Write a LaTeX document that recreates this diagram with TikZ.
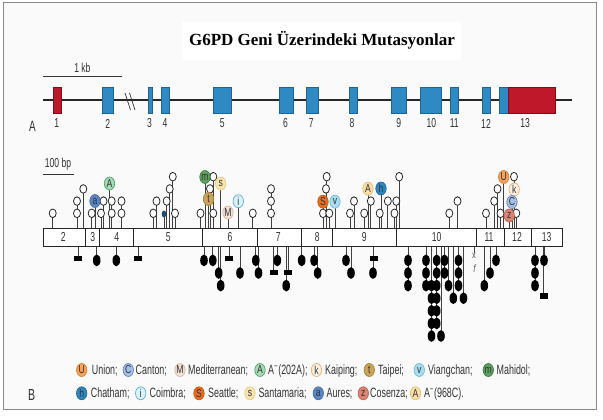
\documentclass[tikz,border=0pt]{standalone}
\usepackage{fontspec}
\setmainfont{Liberation Sans}
\newfontfamily\cond[FakeStretch=0.75]{Liberation Sans}
\newfontfamily\narrow[FakeStretch=0.66]{Liberation Sans}
\newfontfamily\serifb{Liberation Serif}
\usetikzlibrary{shapes.geometric}
\pgfdeclarelayer{bg}
\pgfdeclarelayer{stems}
\pgfsetlayers{bg,stems,main}

\definecolor{framec}{HTML}{8A8A8A}
\definecolor{paper}{HTML}{FAFAFA}
\definecolor{exb}{HTML}{2F8AC4}
\definecolor{exbd}{HTML}{1C6596}
\definecolor{exr}{HTML}{C0182B}
\definecolor{exrd}{HTML}{7E0E1A}
\definecolor{cUf}{HTML}{F3A35C}\definecolor{cUd}{HTML}{E07E2A}
\definecolor{cCf}{HTML}{A7BFE3}\definecolor{cCd}{HTML}{5A86C8}
\definecolor{cMf}{HTML}{F4E0D6}\definecolor{cMd}{HTML}{D9B5A5}
\definecolor{cAgf}{HTML}{A7D9B5}\definecolor{cAgd}{HTML}{4BA66A}
\definecolor{ckf}{HTML}{FFF1E2}\definecolor{ckd}{HTML}{F0AE6E}
\definecolor{ctf}{HTML}{C9A45A}\definecolor{ctd}{HTML}{A88236}
\definecolor{cvf}{HTML}{A9DCEE}\definecolor{cvd}{HTML}{6CBEDD}
\definecolor{cmf}{HTML}{5E9F62}\definecolor{cmd}{HTML}{3F7F44}
\definecolor{chf}{HTML}{2E88BF}\definecolor{chd}{HTML}{1E6A9A}
\definecolor{cif}{HTML}{DDF1F8}\definecolor{cid}{HTML}{5DB1D9}
\definecolor{cSf}{HTML}{E96F1C}\definecolor{cSd}{HTML}{C95510}
\definecolor{csf}{HTML}{F8E5AE}\definecolor{csd}{HTML}{E8CC80}
\definecolor{caf}{HTML}{5B86C4}\definecolor{cad}{HTML}{46709F}
\definecolor{czf}{HTML}{DA8473}\definecolor{czd}{HTML}{C0604F}
\definecolor{cAtf}{HTML}{F8DFAA}\definecolor{cAtd}{HTML}{E3BD72}
\definecolor{darkblob}{HTML}{1F4E79}

\newcommand\legfont{\narrow\fontsize{13.5}{15}\selectfont}

\tikzset{
  oc/.style={ellipse, draw=black!85, fill=white, line width=0.8pt, minimum width=7pt, minimum height=8.6pt, inner sep=0pt},
  fc/.style={ellipse, fill=black, minimum width=7.6pt, minimum height=11.8pt, inner sep=0pt},
  sq/.style={rectangle, fill=black, minimum width=8pt, minimum height=5.5pt, inner sep=0pt},
  stem/.style={draw=black!75, line width=0.75pt},
  exonB/.style={rectangle, fill=exb, draw=exbd, line width=0.6pt, minimum height=26pt, inner sep=0pt, anchor=west},
  exonR/.style={rectangle, fill=exr, draw=exrd, line width=0.6pt, minimum height=26pt, inner sep=0pt, anchor=west},
  numlab/.style={font=\narrow\fontsize{13}{13}\selectfont, text=black!80, inner sep=0pt},
  lc/.style 2 args={ellipse, fill=#1, draw=#2, line width=0.7pt, minimum width=10.4pt, minimum height=13pt, inner sep=0pt, font=\cond\fontsize{11.5}{11.5}\selectfont, text=black!80},
  ccU/.style={lc={cUf}{cUd}}, ccC/.style={lc={cCf}{cCd}}, ccM/.style={lc={cMf}{cMd}},
  ccAg/.style={lc={cAgf}{cAgd}}, cck/.style={lc={ckf}{ckd}}, cct/.style={lc={ctf}{ctd}},
  ccv/.style={lc={cvf}{cvd}}, ccm/.style={lc={cmf}{cmd}}, cch/.style={lc={chf}{chd}},
  cci/.style={lc={cif}{cid}}, ccS/.style={lc={cSf}{cSd}}, ccs/.style={lc={csf}{csd}},
  cca/.style={lc={caf}{cad}}, ccz/.style={lc={czf}{czd}}, ccAt/.style={lc={cAtf}{cAtd}},
}

% open lollipops above the box: name, x, first row, last row
\newcommand\lu[4]{%
  \foreach \r in {#3,...,#4}{\node[oc] (#1-\r) at (#2,{225.5-12.2*\r}) {};}
  \begin{pgfonlayer}{stems}\draw[stem] (#2,228.3) coordinate (#1-b) -- (#1-#4.center);\end{pgfonlayer}}
% filled lollipops below the box
\newcommand\ld[4]{%
  \foreach \r in {#3,...,#4}{\node[fc] (#1-\r) at (#2,{247.8+12.6*\r}) {};}
  \begin{pgfonlayer}{stems}\draw[stem] (#2,245.7) coordinate (#1-b) -- (#1-#4.center);\end{pgfonlayer}}
% square below the box
\newcommand\ls[3]{%
  \node[sq] (#1) at (#2,#3) {};
  \begin{pgfonlayer}{stems}\draw[stem] (#2,245.7) coordinate (#1-b) -- (#1.center);\end{pgfonlayer}}
% coloured marker above the box
\newcommand\mk[5]{%
  \node[#4] (#1) at (#2,#3) {#5};
  \begin{pgfonlayer}{stems}\draw[stem] (#2,228.3) coordinate (#1-b) -- (#1.center);\end{pgfonlayer}}
% legend entry
\newcommand\leg[7]{%
  \node[#4] (#1) at (#2,#3) {#5};
  \node[anchor=base west, font=\legfont, text=black!80, inner sep=0pt] (#1-t) at (#6,{#3+4.6}) {#7};}

\begin{document}
\begin{tikzpicture}[x=1pt,y=-1pt]
\useasboundingbox (0,0) rectangle (603,420);
\begin{pgfonlayer}{bg}
  \fill[white] (0,0) rectangle (603,420);
  \draw[draw=framec, fill=paper, line width=1pt] (3,2.5) rectangle (596.7,409.3);
\end{pgfonlayer}

% title
\node[fill=white, minimum width=279pt, minimum height=38pt, inner sep=0pt] (tbox) at (321,41) {};
\node[font=\serifb\bfseries\fontsize{17}{19}\selectfont, inner sep=0pt] (title) at (322,40) {G6PD Geni Üzerindeki Mutasyonlar};

% ---------- panel A ----------
\coordinate (kb0) at (43,76.7); \coordinate (kb1) at (122,76.7);
\draw[line width=1.1pt, black!80] (kb0) -- (kb1);
\node[numlab] (kbl) at (82.4,67.5) {1 kb};
\coordinate (g0) at (43,100); \coordinate (g1) at (572,100);
\draw[line width=1.1pt, black!85] (g0) -- (g1);
\node[exonR, minimum width=8.5pt] (e1) at (52.8,100.3) {};
\node[exonB, minimum width=10.7pt] (e2) at (102.3,100.3) {};
\node[exonB, minimum width=4.7pt] (e3) at (147.5,100.3) {};
\node[exonB, minimum width=7.2pt] (e4) at (161.4,100.3) {};
\node[exonB, minimum width=17.8pt] (e5) at (213,100.3) {};
\node[exonB, minimum width=14.6pt] (e6) at (278.7,100.3) {};
\node[exonB, minimum width=11.5pt] (e7) at (306.3,100.3) {};
\node[exonB, minimum width=8.4pt] (e8) at (348.9,100.3) {};
\node[exonB, minimum width=14.6pt] (e9) at (391,100.3) {};
\node[exonB, minimum width=21.1pt] (e10) at (419.8,100.3) {};
\node[exonB, minimum width=8.4pt] (e11) at (449.7,100.3) {};
\node[exonB, minimum width=8.5pt] (e12) at (481.5,100.3) {};
\node[exonB, minimum width=9pt] (e13b) at (499,100.3) {};
\node[exonR, minimum width=46.8pt] (e13) at (508,100.3) {};
\draw[black!80, line width=0.7pt] (125,93) -- (130.5,110) (129.5,93) -- (135,110);
\foreach \n/\x in {1/56.7,2/107.7,3/149.5,4/164.9,5/222.3,6/285.6,7/311.3,8/352,9/398.7,10/431.3,11/454.3,12/486,13/525.2}
  \node[numlab] (na\n) at (\x,123.5) {\n};
\node[font=\narrow\fontsize{15}{15}\selectfont, text=black!80] (labA) at (32.5,126) {A};

% ---------- panel B ----------
\coordinate (bp0) at (42.7,174.3); \coordinate (bp1) at (74,174.3);
\draw[line width=1.1pt, black!80] (bp0) -- (bp1);
\node[numlab] (bpl) at (58,164.5) {100 bp};
\node[draw=black!85, fill=white, line width=0.8pt, anchor=north west, minimum width=519pt, minimum height=17.4pt, inner sep=0pt] (bx) at (42.7,228.3) {};
\foreach \x in {85,99.3,133.3,202,257.3,301.7,332.7,396.8,476.7,504,531.7}
  \draw[black!85, line width=0.8pt] (\x,228.3) -- (\x,245.7);
\foreach \n/\x in {2/63.3,3/92.7,4/116.7,5/168.3,6/230,7/278.3,8/317.3,9/364.3,10/436.7,11/489,12/517,13/546.7}
  \node[numlab] (nb\n) at (\x,237.2) {\n};

% upper open lollipops
\lu{u1}{52.7}{1}{1}
\lu{u2}{77}{1}{2}
\lu{u3}{83.3}{3}{3}
\lu{u4}{91.7}{1}{1}
\lu{u5}{101}{1}{1}
\lu{u6}{103.5}{2}{2}
\lu{u7}{111.7}{1}{2}
\lu{u8}{121.5}{1}{2}
\lu{u9}{153.3}{1}{1}
\lu{u10}{156.5}{2}{2}
\lu{u11}{166.7}{2}{2}
\lu{u12}{169.7}{3}{3}
\lu{u13}{172.8}{4}{4}
\lu{u14}{175}{1}{1}
\lu{u15}{200.5}{1}{1}
\lu{u16}{210}{3}{3}
\lu{u17}{213.3}{4}{4}
\lu{u18}{213.3}{1}{1}
\lu{u19}{252.8}{1}{1}
\lu{u20}{271}{1}{3}
\lu{u21}{323}{1}{1}
\lu{u22}{329.3}{1}{1}
\lu{u23}{326}{3}{3}
\lu{u24}{326.7}{4}{4}
\lu{u25}{350}{1}{1}
\lu{u26}{354}{2}{2}
\lu{u27}{364.2}{1}{1}
\lu{u28}{370.8}{2}{2}
\lu{u29}{379.7}{1}{1}
\lu{u30}{387.8}{2}{2}
\lu{u31}{394.5}{1}{1}
\lu{u32}{396.3}{2}{2}
\lu{u33}{399.2}{4}{4}
\lu{u34}{449.3}{1}{1}
\lu{u35}{457.5}{2}{2}
\lu{u36}{486}{1}{1}
\lu{u37}{494.2}{2}{2}
\lu{u38}{497.5}{3}{3}
\lu{u39}{500.5}{1}{1}
\lu{u40}{514}{4}{4}
\lu{u41}{516.3}{1}{1}
% small dark mark in exon 5
\node[ellipse, fill=darkblob, minimum width=4.6pt, minimum height=7pt, inner sep=0pt] (blob) at (164,214) {};
\begin{pgfonlayer}{stems}\draw[stem] (164,228.3) coordinate (blob-b) -- (blob.center);\end{pgfonlayer}
% coloured markers
\mk{ma}{95}{201}{cca}{a}
\mk{mAg}{109.5}{183.5}{ccAg}{A}
\mk{mm}{205}{177}{ccm}{m}
\mk{mt}{208.5}{199}{cct}{t}
\mk{ms}{220.7}{183.5}{ccs}{s}
\mk{mM}{228}{212.5}{ccM}{M}
\mk{mi}{238.3}{201.2}{cci}{i}
\mk{mS}{323}{201.7}{ccS}{S}
\mk{mv}{335}{201.7}{ccv}{v}
\mk{mAt}{368}{188.7}{ccAt}{A}
\mk{mh}{381}{188.5}{cch}{h}
\mk{mU}{503.7}{177}{ccU}{U}
\mk{mk}{514.2}{189.5}{cck}{k}
\mk{mz}{509.2}{215.5}{ccz}{z}
\mk{mC}{512}{202}{ccC}{C}

% lower filled lollipops and squares
\ls{s1}{78.3}{258.3}
\ld{d1}{96.7}{1}{1}
\ld{d2}{116.3}{1}{1}
\ls{s2}{138.3}{258.3}
\ld{d3}{204}{1}{1}
\ld{d4}{212.8}{1}{1}
\ld{d5}{218.7}{2}{2}
\ld{d6}{220.7}{3}{3}
\ls{s3}{229.2}{258.3}
\ld{d7}{240}{2}{2}
\ld{d8}{255.8}{1}{1}
\ld{d9}{258.5}{2}{2}
\ls{s4}{273.8}{272.5}
\ld{d10}{277.3}{1}{1}
\ls{s5}{288.3}{272.5}
\ld{d11}{286.2}{3}{3}
\ld{d12}{301.7}{1}{1}
\ld{d13}{314.1}{1}{1}
\ld{d14}{317.7}{2}{2}
\ld{d15}{346}{1}{1}
\ld{d16}{351}{2}{2}
\ls{s6}{373.5}{258.3}
\ld{d17}{373}{2}{2}
\ld{d18}{408}{1}{3}
\ld{d19}{426}{1}{3}
\ld{d20}{431.5}{3}{7}
\ld{d21}{436.7}{1}{6}
\ld{d22}{441}{7}{7}
\ld{d23}{444.5}{1}{2}
\ld{d24}{448.5}{3}{3}
\ld{d25}{453.3}{4}{4}
\ld{d26}{458.5}{1}{3}
\ld{d27}{463.5}{4}{4}
\ld{d28}{484.3}{3}{3}
\ld{d29}{490}{2}{2}
\ld{d30}{496}{1}{1}
\ld{d31}{535}{1}{3}
\ld{d32}{544}{1}{1}
\ls{s7}{543.5}{296}
% x mark
\node[font=\cond\fontsize{10}{10}\selectfont, text=black!70, inner sep=0pt] (xm) at (474,256) {x};
\node[font=\cond\itshape\fontsize{11}{11}\selectfont, text=black!60, inner sep=0pt] (fm) at (474.5,268.5) {f};
\begin{pgfonlayer}{stems}\draw[stem] (474,245.7) coordinate (xm-b) -- (xm.north);\end{pgfonlayer}

% legend
\node[font=\narrow\fontsize{16}{16}\selectfont, text=black!80] (labB) at (31.7,395) {B};
\leg{lU}{81.7}{370}{ccU}{U}{91.7}{Union;}
\leg{lC}{128.3}{370}{ccC}{C}{135.5}{Canton;}
\leg{lM}{180}{370}{ccM}{M}{188}{Mediterranean;}
\leg{lAg}{260}{370}{ccAg}{A}{268}{A\textsuperscript{−}(202A);}
\leg{lk}{316.5}{370}{cck}{k}{325}{Kaiping;}
\leg{lt}{369.3}{370}{cct}{t}{378}{Taipei;}
\leg{lv}{419.3}{370}{ccv}{v}{428}{Viangchan;}
\leg{lm}{488.3}{370}{ccm}{m}{496.5}{Mahidol;}
\leg{lh}{81.7}{393.3}{cch}{h}{90.7}{Chatham;}
\leg{li}{140.7}{393.3}{cci}{i}{149.5}{Coimbra;}
\leg{lS}{199}{393.3}{ccS}{S}{208}{Seattle;}
\leg{ls}{250}{393.3}{ccs}{s}{258.3}{Santamaria;}
\leg{la}{318.3}{393.3}{cca}{a}{326.5}{Aures;}
\leg{lz}{363.3}{393.3}{ccz}{z}{370}{Cosenza;}
\leg{lAt}{415.5}{393.3}{ccAt}{A}{423.8}{A\textsuperscript{−}(968C).}
\end{tikzpicture}
\end{document}
